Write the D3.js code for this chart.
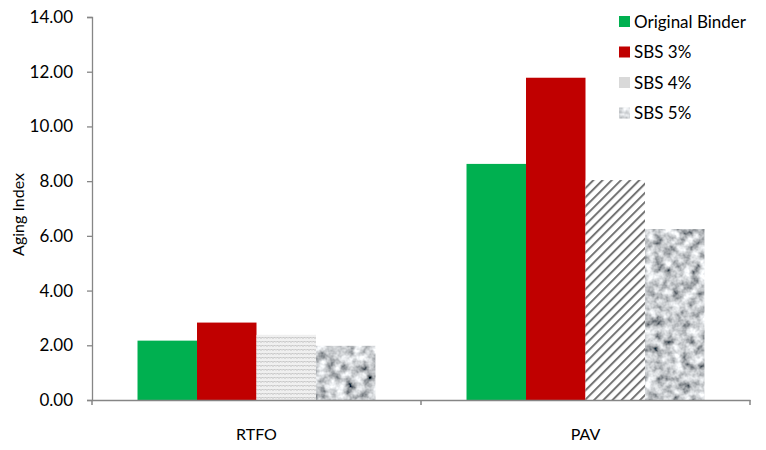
<!DOCTYPE html>
<html><head><meta charset="utf-8">
<script src="https://cdn.jsdelivr.net/npm/d3@7"></script>
<style>body{margin:0;background:#fff}svg{display:block}text{font-family:Lato,"Liberation Sans",sans-serif}</style>
</head><body><div id="c"></div>
<script>
const categories = ["RTFO", "PAV"];
const series = ["Original Binder", "SBS 3%", "SBS 4%", "SBS 5%"];
const originalBinder = [2.17, 8.63];
const sbs3 = [2.83, 11.78];
const sbs4 = [2.38, 8.04];
const sbs5 = [1.98, 6.25];
const yTicks = [0, 2, 4, 6, 8, 10, 12, 14];
const values = [originalBinder, sbs3, sbs4, sbs5];

const W = 766, H = 450;
const m = {left: 92, right: 16, top: 17, bottom: 50};
const svg = d3.select("#c").append("svg").attr("width", W).attr("height", H);
const defs = svg.append("defs");

// granite filter
const f = defs.append("filter").attr("id","granite").attr("x",0).attr("y",0).attr("width",1).attr("height",1);
f.append("feTurbulence").attr("type","fractalNoise").attr("baseFrequency","0.11").attr("numOctaves",3).attr("seed",7).attr("result","t");
f.append("feColorMatrix").attr("in","t").attr("type","matrix")
 .attr("values","1.6 0 0 0 -0.22  1.6 0 0 0 -0.2  1.6 0 0 0 -0.18  0 0 0 0 1");

const gp = defs.append("pattern").attr("id","pGranite").attr("patternUnits","userSpaceOnUse").attr("width",200).attr("height",200);
gp.append("rect").attr("width",200).attr("height",200).attr("fill","#999").attr("filter","url(#granite)");

// fine wavy pattern
const wp = defs.append("pattern").attr("id","pWave").attr("patternUnits","userSpaceOnUse").attr("width",6).attr("height",4);
wp.append("rect").attr("width",6).attr("height",4).attr("fill","#f0f0f0");
wp.append("path").attr("d","M0,2.5 L1.5,1 L3,2.5 L4.5,1 L6,2.5").attr("stroke","#bdbdbd").attr("stroke-width",1).attr("fill","none");

// diagonal hatch
const hp = defs.append("pattern").attr("id","pHatch").attr("patternUnits","userSpaceOnUse").attr("width",6.5).attr("height",6.5).attr("patternTransform","rotate(45)");
hp.append("rect").attr("width",6.5).attr("height",6.5).attr("fill","#fff");
hp.append("rect").attr("x",0).attr("width",2).attr("height",6.5).attr("fill","#747474");

const x0 = d3.scaleBand().domain(categories).range([m.left, W - m.right]).paddingInner(0).paddingOuter(0);
const x1 = d3.scaleBand().domain(series).range([0, x0.bandwidth()]).paddingOuter(0.765).paddingInner(0);
const y = d3.scaleLinear().domain([0, 14]).range([H - m.bottom, m.top]);

const fills = [
  () => "#00b050",
  () => "#c00000",
  (ci) => ci === 0 ? "url(#pWave)" : "url(#pHatch)",
  () => "url(#pGranite)"
];

series.forEach((s, si) => {
  svg.append("g").selectAll("rect").data(categories).join("rect")
    .attr("x", c => x0(c) + x1(s))
    .attr("y", (c, ci) => y(values[si][ci]))
    .attr("width", x1.bandwidth())
    .attr("height", (c, ci) => y(0) - y(values[si][ci]))
    .attr("fill", (c, ci) => fills[si](ci));
});

const axisColor = "#868686";
const ya = svg.append("g").attr("transform", `translate(${m.left},0)`)
  .call(d3.axisLeft(y).tickValues(yTicks).tickFormat(d3.format(".2f")).tickSizeOuter(0).tickSize(5));
ya.select(".domain").attr("stroke", axisColor).attr("stroke-width", 1.3);
ya.selectAll(".tick line").attr("stroke", axisColor).attr("stroke-width", 1.3);
ya.selectAll(".tick text").attr("font-size", 17).attr("fill", "#000").attr("x", -19).attr("font-family","Lato,sans-serif");

const xa = svg.append("g").attr("transform", `translate(0,${y(0)})`)
  .call(d3.axisBottom(x0).tickSize(0).tickPadding(29));
xa.select(".domain").attr("stroke", axisColor).attr("stroke-width", 1.6);
xa.selectAll(".tick text").attr("font-size", 16).attr("fill", "#000").attr("font-family","Lato,sans-serif");
// category boundary ticks
const bounds = [m.left, x0("PAV"), W - m.right];
svg.append("g").selectAll("line").data(bounds).join("line")
  .attr("x1", d => d).attr("x2", d => d).attr("y1", y(0)).attr("y2", y(0) + 5)
  .attr("stroke", axisColor).attr("stroke-width", 1.5);

svg.append("text").attr("transform", `translate(24,${(y(0)+y(14))/2 + 6}) rotate(-90)`)
  .attr("text-anchor", "middle").attr("font-size", 16).text("Aging Index");

const legFills = ["#00b050", "#c00000", "#d9d9d9", "url(#pGranite)"];
const lg = svg.append("g").selectAll("g").data(series).join("g")
  .attr("transform", (d, i) => `translate(619,${22 + i * 30.5})`);
lg.append("rect").attr("x", 0).attr("y", -6).attr("width", 11).attr("height", 11).attr("fill", (d, i) => legFills[i]);
lg.append("text").attr("x", 15).attr("y", 0).attr("dy", "0.35em").attr("font-size", 17).text(d => d);
</script></body></html>
